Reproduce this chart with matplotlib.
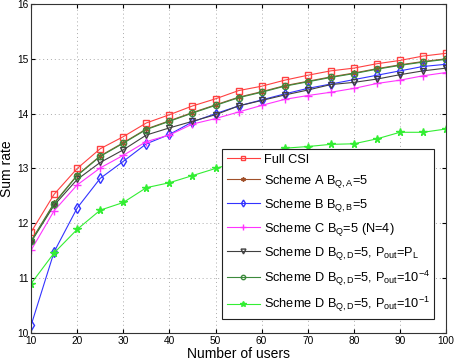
import matplotlib
matplotlib.use("Agg")
import matplotlib.pyplot as plt
import numpy as np

plt.rcParams['font.family'] = ['Liberation Sans', 'DejaVu Sans']
plt.rcParams['mathtext.fontset'] = 'custom'
plt.rcParams['mathtext.rm'] = 'Liberation Sans'
plt.rcParams['mathtext.it'] = 'Liberation Sans'

users = [10, 15, 20, 25, 30, 35, 40, 45, 50, 55, 60, 65, 70, 75, 80, 85, 90, 95, 100]

full_csi = [11.84, 12.53, 13.00, 13.36, 13.58, 13.83, 13.98, 14.14, 14.27, 14.42, 14.50, 14.61, 14.70, 14.78, 14.83, 14.91, 14.97, 15.05, 15.10]
scheme_a = [11.68, 12.37, 12.88, 13.23, 13.47, 13.72, 13.87, 14.02, 14.16, 14.30, 14.40, 14.51, 14.59, 14.67, 14.74, 14.82, 14.89, 14.95, 15.00]
scheme_b = [10.14, 11.48, 12.28, 12.82, 13.13, 13.45, 13.62, 13.85, 14.00, 14.14, 14.25, 14.36, 14.46, 14.54, 14.62, 14.70, 14.78, 14.86, 14.90]
scheme_c = [11.51, 12.23, 12.70, 13.01, 13.24, 13.49, 13.61, 13.81, 13.91, 14.03, 14.15, 14.26, 14.33, 14.39, 14.46, 14.55, 14.61, 14.69, 14.75]
scheme_d_pl = [11.66, 12.33, 12.80, 13.11, 13.34, 13.61, 13.74, 13.86, 13.98, 14.14, 14.24, 14.34, 14.43, 14.53, 14.57, 14.63, 14.71, 14.78, 14.83]
scheme_d_1e4 = [11.67, 12.36, 12.87, 13.22, 13.46, 13.71, 13.86, 14.01, 14.15, 14.29, 14.39, 14.50, 14.58, 14.66, 14.73, 14.81, 14.88, 14.94, 14.99]
scheme_d_1e1 = [10.90, 11.46, 11.89, 12.24, 12.38, 12.65, 12.74, 12.87, 13.00, 13.12, 13.25, 13.37, 13.40, 13.44, 13.45, 13.54, 13.66, 13.66, 13.72]

labels = [
    'Full CSI',
    r'Scheme A B$_{\mathrm{Q,A}}$=5',
    r'Scheme B B$_{\mathrm{Q,B}}$=5',
    r'Scheme C B$_{\mathrm{Q}}$=5 (N=4)',
    r'Scheme D B$_{\mathrm{Q,D}}$=5, P$_{\mathrm{out}}$=P$_{\mathrm{L}}$',
    r'Scheme D B$_{\mathrm{Q,D}}$=5, P$_{\mathrm{out}}$=10$^{\mathrm{-4}}$',
    r'Scheme D B$_{\mathrm{Q,D}}$=5, P$_{\mathrm{out}}$=10$^{\mathrm{-1}}$',
]

fig = plt.figure(figsize=(4.57, 3.6), dpi=100)
ax = fig.add_axes([0.068, 0.075, 0.908, 0.914])

lw = 0.8
ms = 4.5
asterisk = (6, 2, 0)
ax.plot(users, full_csi, color='#ff4040', marker='s', mfc='none', ms=ms, lw=lw, label=labels[0])
ax.plot(users, scheme_a, color='#a0502a', marker=asterisk, ms=ms, lw=lw, label=labels[1])
ax.plot(users, scheme_b, color='#3333ff', marker='d', mfc='none', ms=ms + 0.5, lw=lw, label=labels[2])
ax.plot(users, scheme_c, color='#ff33ff', marker='+', ms=ms + 1, lw=lw, label=labels[3])
ax.plot(users, scheme_d_pl, color='#404040', marker='v', mfc='none', ms=ms + 0.5, lw=lw, label=labels[4])
ax.plot(users, scheme_d_1e4, color='#3c8a3c', marker='o', mfc='none', ms=ms, lw=lw, label=labels[5])
ax.plot(users, scheme_d_1e1, color='#33ee33', marker='*', ms=ms + 1, lw=lw, label=labels[6])

ax.set_xlim(10, 100)
ax.set_ylim(10, 16)
ax.set_xticks(np.arange(10, 101, 10))
ax.set_yticks(np.arange(10, 17, 1))
ax.tick_params(direction='in', top=True, right=True, labelsize=7.3, length=3, pad=2)
ax.grid(True, linestyle=(0, (1, 3)), color='#aaaaaa', linewidth=0.7)
for s in ax.spines.values():
    s.set_linewidth(0.8)
    s.set_color('#333333')

ax.set_xlabel('Number of users', fontsize=10, labelpad=1)
ax.set_ylabel('Sum rate', fontsize=10, labelpad=2)

leg = ax.legend(loc='upper left', bbox_to_anchor=(0.461, 0.559), borderaxespad=0,
                fontsize=9.2, fancybox=False, edgecolor='#222222', framealpha=1,
                handlelength=2.6, handletextpad=0.3, labelspacing=0.55, borderpad=0.35,
                markerscale=0.7)
leg.get_frame().set_linewidth(0.8)

fig.savefig('out.png', dpi=100)
